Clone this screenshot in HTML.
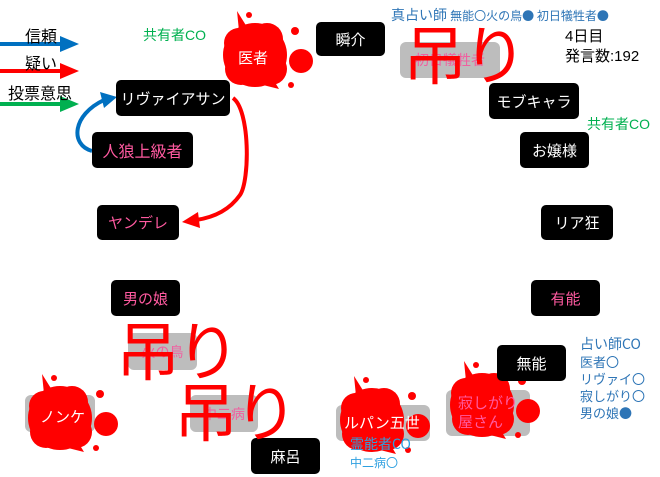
<!DOCTYPE html>
<html><head><meta charset="utf-8"><style>
body{margin:0;width:660px;height:477px;background:#fff;position:relative;overflow:hidden;font-family:"Liberation Sans","Noto Sans CJK JP",sans-serif}
.b{position:absolute;background:#000;color:#fff;border-radius:5px;display:flex;align-items:center;justify-content:center;font-size:15px}
.g{position:absolute;background:#bdbdbd;border-radius:6px;display:flex;align-items:center;justify-content:center;font-size:14px;color:#f060a0}
.p{color:#ff5aa0}
.t{position:absolute;white-space:nowrap}
.c{font-family:"Noto Sans CJK JP",sans-serif}
.h{position:absolute;color:#f00;font-size:64px;line-height:1;white-space:nowrap;letter-spacing:-4px}
svg{position:absolute;left:0;top:0}
</style></head><body>
<div class="g" style="left:400px;top:42px;width:100px;height:36px">初日犠牲者</div>
<div class="g" style="left:128px;top:333px;width:69px;height:37px">火の鳥</div>
<div class="g" style="left:190px;top:395px;width:68px;height:37px">中二病</div>
<div class="g" style="left:25px;top:395px;width:70px;height:37px"></div>
<div class="g" style="left:336px;top:405px;width:94px;height:36px"></div>
<div class="g" style="left:446px;top:390px;width:84px;height:46px"></div>
<svg width="660" height="477" viewBox="0 0 660 477">
<defs>
<g id="sp">
<circle cx="0" cy="0" r="32"/>
<circle cx="12" cy="-16" r="16"/><circle cx="-14" cy="14" r="16"/><circle cx="16" cy="14" r="16"/><circle cx="-16" cy="-12" r="15"/>
<polygon points="-16,-24 -18,-44 -8,-28"/><polygon points="18,24 24,34 8,30"/>
<circle cx="46" cy="6" r="12"/><circle cx="40" cy="-24" r="4"/><circle cx="36" cy="30" r="3"/><circle cx="-6" cy="-40" r="3"/>
</g>
</defs>
<g fill="#f00">
<use href="#sp" transform="translate(255,55)"/>
<use href="#sp" transform="translate(60,418)"/>
<use href="#sp" transform="translate(372,420)"/>
<use href="#sp" transform="translate(482,405)"/>
</g>
<line x1="0" y1="44" x2="62" y2="44" stroke="#0070c0" stroke-width="4"/><polygon points="60,36 79,44 60,52" fill="#0070c0"/>
<line x1="0" y1="71" x2="62" y2="71" stroke="#f00" stroke-width="4"/><polygon points="60,63 79,71 60,79" fill="#f00"/>
<line x1="0" y1="104" x2="62" y2="104" stroke="#00b050" stroke-width="4"/><polygon points="60,96 79,104 60,112" fill="#00b050"/>
<path d="M92,151 C70,145 72,115 104,100" fill="none" stroke="#0070c0" stroke-width="4"/>
<polygon points="100,92 117,97 104,108" fill="#0070c0"/>
<path d="M233,98 C250,110 250,180 240,195 C228,212 210,218 196,220" fill="none" stroke="#f00" stroke-width="4"/>
<polygon points="198,212 182,222 200,228" fill="#f00"/>
</svg>
<div class="t" style="left:25px;top:23px;font-size:16px">信頼</div>
<div class="t" style="left:25px;top:50px;font-size:16px">疑い</div>
<div class="t" style="left:8px;top:80px;font-size:16px">投票意思</div>
<div class="t" style="left:143px;top:25px;font-size:14px;color:#00b050">共有者CO</div>
<div class="t" style="left:587px;top:114px;font-size:14px;color:#00b050">共有者CO</div>
<div class="t" style="left:238px;top:47px;font-size:15px;color:#fff">医者</div>
<div class="t" style="left:40px;top:406px;font-size:15px;color:#fff">ノンケ</div>
<div class="t" style="left:344px;top:412px;font-size:15px;color:#fff">ルパン五世</div>
<div class="t p" style="left:458px;top:394px;font-size:15px;line-height:19px">寂しがり<br>屋さん</div>
<div class="b" style="left:316px;top:22px;width:69px;height:34px">瞬介</div>
<div class="b" style="left:489px;top:83px;width:90px;height:36px">モブキャラ</div>
<div class="b" style="left:520px;top:132px;width:69px;height:36px">お嬢様</div>
<div class="b" style="left:541px;top:205px;width:72px;height:35px">リア狂</div>
<div class="b" style="left:116px;top:80px;width:114px;height:36px">リヴァイアサン</div>
<div class="b p" style="left:92px;top:132px;width:101px;height:36px;font-size:16px">人狼上級者</div>
<div class="b p" style="left:97px;top:205px;width:82px;height:35px">ヤンデレ</div>
<div class="b p" style="left:111px;top:280px;width:69px;height:36px">男の娘</div>
<div class="b p" style="left:531px;top:280px;width:69px;height:36px">有能</div>
<div class="b" style="left:251px;top:438px;width:69px;height:36px">麻呂</div>
<div class="b" style="left:497px;top:345px;width:69px;height:36px">無能</div>
<div class="t c" style="left:391px;top:5px;font-size:14px;color:#2e75b6">真占い師 <span style="font-size:12px">無能〇火の鳥● 初日犠牲者●</span></div>
<div class="t" style="left:565px;top:27px;font-size:15px;line-height:20px">4日目<br>発言数:192</div>
<div class="t c" style="left:580px;top:335px;font-size:13px;color:#2e75b6;line-height:17px"><span style="font-size:14px">占い師CO</span><br>医者〇<br>リヴァイ〇<br>寂しがり〇<br>男の娘●</div>
<div class="t c" style="left:350px;top:435px;font-size:14px;color:#2ea0e0;line-height:18px">霊能者CO<br><span style="font-size:12px">中二病〇</span></div>
<div class="h" style="left:403px;top:25px">吊り</div>
<div class="h" style="left:116px;top:321px">吊り</div>
<div class="h" style="left:174px;top:382px">吊り</div>
</body></html>
